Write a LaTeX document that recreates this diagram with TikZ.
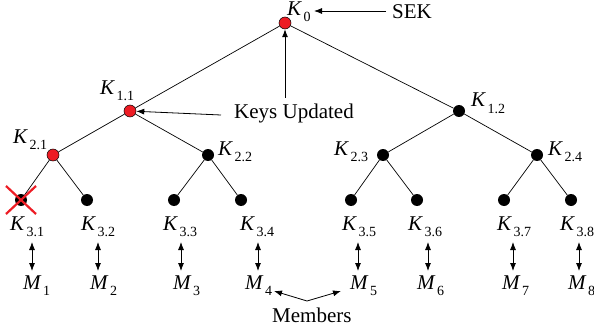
\documentclass[tikz,border=0pt]{standalone}
\usepackage{fontspec}
\setmainfont{Liberation Serif}
\usetikzlibrary{arrows.meta,calc}
\definecolor{kred}{RGB}{237,28,36}
\newcommand\kfont{\fontsize{21}{25}\selectfont}
\newcommand\subfnt{\fontsize{14}{16}\selectfont}
\newcommand\kl[2]{\textit{#1}\kern1.5pt\raisebox{-6pt}{\subfnt #2}}
\begin{document}
\begin{tikzpicture}[x=1pt,y=-1pt,
  kdot/.style={circle, fill=black, inner sep=0pt, minimum size=12pt},
  rdot/.style={circle, fill=kred, draw=black, line width=0.5pt, inner sep=0pt, minimum size=12pt},
  lab/.style={inner sep=0pt, anchor=base west, font=\kfont},
  txt/.style={inner sep=0pt, anchor=base west, font=\fontsize{21}{25}\selectfont},
  edge/.style={line width=0.7pt},
  arr/.style={-{Latex[length=8pt,width=6pt]}, line width=0.8pt},
  darr/.style={{Latex[length=8pt,width=6pt]}-{Latex[length=8pt,width=6pt]}, line width=0.8pt}]
\useasboundingbox (0,0) rectangle (594,326);
% dots
\node[rdot] (k0) at (285,23) {};
\node[rdot] (k11) at (130,111) {};
\node[kdot] (k12) at (459,111) {};
\node[rdot] (k21) at (53,155) {};
\node[kdot] (k22) at (208,155) {};
\node[kdot] (k23) at (383,155) {};
\node[kdot] (k24) at (537,155) {};
\node[kdot] (k31) at (21,200) {};
\node[kdot] (k32) at (87,200) {};
\node[kdot] (k33) at (174,200) {};
\node[kdot] (k34) at (241,200) {};
\node[kdot] (k35) at (351,200) {};
\node[kdot] (k36) at (417,200) {};
\node[kdot] (k37) at (504,200) {};
\node[kdot] (k38) at (571,200) {};
% edges
\draw[edge] (k0) -- (k11);
\draw[edge] (k0) -- (k12);
\draw[edge] (k11) -- (k21);
\draw[edge] (k11) -- (k22);
\draw[edge] (k12) -- (k23);
\draw[edge] (k12) -- (k24);
\draw[edge] (k21) -- (k31);
\draw[edge] (k21) -- (k32);
\draw[edge] (k22) -- (k33);
\draw[edge] (k22) -- (k34);
\draw[edge] (k23) -- (k35);
\draw[edge] (k23) -- (k36);
\draw[edge] (k24) -- (k37);
\draw[edge] (k24) -- (k38);
% node labels
\node[lab] (l0) at (287,16) {\kl{K}{0}};
\node[lab] (l11) at (100,95) {\kl{K}{1.1}};
\node[lab] (l12) at (471,107) {\kl{K}{1.2}};
\node[lab] (l21) at (13,143) {\kl{K}{2.1}};
\node[lab] (l22) at (218,155) {\kl{K}{2.2}};
\node[lab] (l23) at (334,155) {\kl{K}{2.3}};
\node[lab] (l24) at (548,155) {\kl{K}{2.4}};
\node[lab] (l31) at (10,230) {\kl{K}{3.1}};
\node[lab] (l32) at (81,230) {\kl{K}{3.2}};
\node[lab] (l33) at (163,230) {\kl{K}{3.3}};
\node[lab] (l34) at (240,230) {\kl{K}{3.4}};
\node[lab] (l35) at (342,230) {\kl{K}{3.5}};
\node[lab] (l36) at (408,230) {\kl{K}{3.6}};
\node[lab] (l37) at (497,230) {\kl{K}{3.7}};
\node[lab] (l38) at (560,230) {\kl{K}{3.8}};
% members
\node[lab] (m1) at (23,289) {\kl{M}{1}};
\node[lab] (m2) at (90,289) {\kl{M}{2}};
\node[lab] (m3) at (173,289) {\kl{M}{3}};
\node[lab] (m4) at (245,289) {\kl{M}{4}};
\node[lab] (m5) at (350,289) {\kl{M}{5}};
\node[lab] (m6) at (417,289) {\kl{M}{6}};
\node[lab] (m7) at (502,289) {\kl{M}{7}};
\node[lab] (m8) at (568,289) {\kl{M}{8}};
% double arrows
\foreach \i/\x in {1/32,2/98,3/181,4/258,5/358,6/428,7/513,8/579}{
  \coordinate (at\i) at (\x,242);
  \coordinate (ab\i) at (\x,271);
  \draw[darr] (at\i) -- (ab\i);
}
% annotations
\node[txt] (sek) at (392,19) {SEK};
\coordinate (sekS) at (386,11);
\coordinate (sekE) at (314,11);
\draw[arr] (sekS) -- (sekE);
\node[txt] (ku) at (234,118) {Keys Updated};
\coordinate (kuv) at (285,98);
\coordinate (kuh) at (221,115);
\draw[arr] (kuv) -- (k0);
\draw[arr] (kuh) -- (k11);
\node[txt] (mem) at (272,322) {Members};
\coordinate (memc) at (307,301);
\coordinate (m4e) at (274,291);
\coordinate (m5e) at (341,291);
\draw[arr] (memc) -- (m4e);
\draw[arr] (memc) -- (m5e);
% cross
\draw[kred, line width=2.2pt] ($(k31)+(-15,-14)$) -- ($(k31)+(15,14)$);
\draw[kred, line width=2.2pt] ($(k31)+(-15,14)$) -- ($(k31)+(15,-14)$);
\end{tikzpicture}
\end{document}
